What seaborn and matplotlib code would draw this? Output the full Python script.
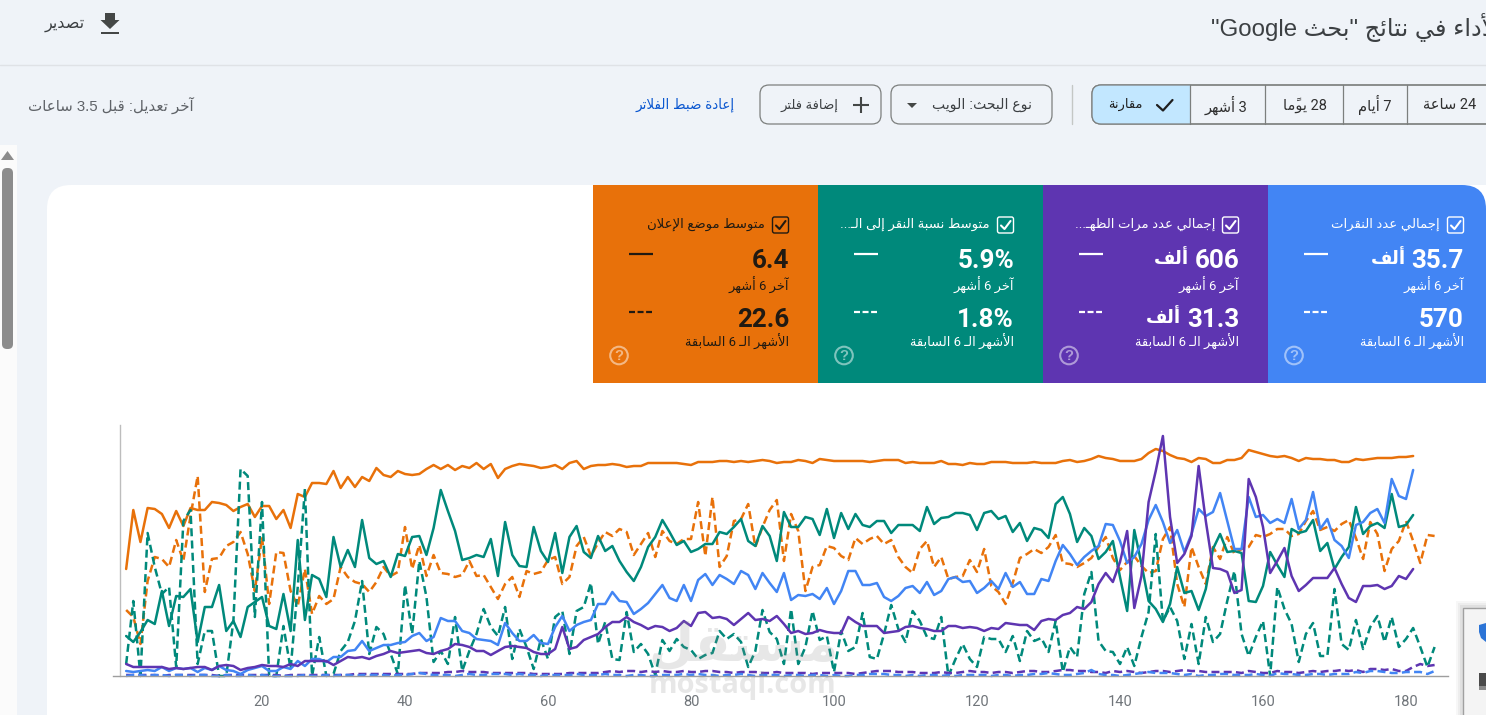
import re
import matplotlib
matplotlib.use("Agg")
import matplotlib.pyplot as plt
from matplotlib.patches import FancyBboxPatch, Rectangle, Polygon, Circle
import pandas as pd
import seaborn as sns

# ---------- data (chart units) ----------
position_current = [
    107,166,134,168,167,162,148,165,150,168,
    166,166,174,173,171,165,169,172,159,170,
    170,157,166,148,182,179,193,193,192,205,
    188,199,189,199,195,208,201,199,205,202,
    201,202,207,211,207,211,206,210,208,213,
    207,212,198,207,210,212,211,210,208,209,
    211,207,213,215,207,210,211,211,212,211,
    209,210,210,213,213,213,213,213,212,211,
    214,214,214,215,215,214,215,214,215,216,
    215,213,214,214,216,215,213,217,216,215,
    215,215,215,215,214,215,216,216,216,213,
    214,213,213,213,215,212,212,211,213,212,
    212,214,214,214,213,213,213,214,213,213,
    213,215,216,214,215,217,220,218,217,215,
    215,215,217,223,227,225,221,218,217,214,
    218,217,213,213,216,216,218,226,224,222,
    220,219,220,218,215,218,217,217,216,216,
    214,214,217,216,217,218,218,218,219,219,
    220]
ctr_current = [
    40,34,44,56,52,85,50,80,79,87,
    34,69,69,91,45,55,39,69,74,79,
    50,47,82,45,136,56,101,97,79,139,
    109,126,109,156,118,112,115,99,122,120,
    139,140,121,148,186,165,145,116,118,121,
    119,137,100,154,121,110,109,149,125,114,
    143,103,139,150,124,118,140,125,130,115,
    104,95,109,129,139,156,144,131,135,124,
    127,132,132,144,142,149,157,135,130,150,
    140,115,164,149,149,159,157,141,167,138,
    163,147,162,151,149,155,155,143,151,151,
    151,145,169,152,158,159,163,163,161,146,
    163,165,157,160,144,153,135,148,146,138,
    172,179,162,134,148,140,117,124,135,99,
    65,146,112,75,67,54,72,109,83,85,
    66,87,127,142,124,125,123,75,74,90,
    124,111,99,147,143,145,156,125,133,107,
    119,129,169,142,150,153,148,182,149,151,
    161]
clicks_current = [
    5,4,5,6,5,9,5,8,7,8,
    4,8,6,10,6,5,2,6,8,10,
    5,5,9,7,15,10,17,17,14,19,
    19,25,26,35,25,28,31,31,33,34,
    40,43,35,39,58,55,55,45,43,37,
    36,35,31,53,43,35,35,41,33,32,
    49,60,45,51,54,56,72,72,84,75,
    74,62,67,73,82,91,78,75,91,75,
    96,102,91,101,97,92,105,101,87,103,
    93,84,103,76,81,80,82,77,88,72,
    85,105,105,91,91,93,79,75,80,88,
    90,83,94,81,85,97,99,94,95,83,
    88,95,87,103,89,94,82,82,97,95,
    115,131,122,111,119,125,130,152,151,135,
    113,119,132,156,171,154,133,146,124,142,
    167,160,164,183,155,127,127,179,159,161,
    153,157,153,177,147,156,184,147,157,136,
    130,118,151,154,163,167,153,197,180,177,
    206]
impressions_current = [
    12,9,9,9,9,9,7,8,7,8,
    9,9,6,10,11,10,6,8,9,11,
    10,10,9,12,10,15,15,15,15,11,
    15,19,18,19,17,20,22,25,23,24,
    25,26,23,22,25,27,32,31,29,25,
    25,21,25,29,30,29,28,24,22,22,
    27,49,27,29,36,39,42,49,54,54,
    59,54,51,47,50,49,45,48,55,50,
    63,64,58,59,57,51,57,63,56,57,
    55,60,52,43,45,42,43,46,44,43,
    43,59,54,50,50,50,43,44,45,49,
    50,48,47,45,45,50,50,48,49,48,
    45,48,47,53,52,51,51,46,55,57,
    56,61,63,69,67,74,92,103,94,114,
    145,68,100,174,205,240,159,113,122,140,
    210,155,108,107,104,83,86,197,179,149,
    103,115,128,100,85,91,98,98,98,108,
    92,78,74,90,90,91,87,90,100,97,
    107]
position_previous = [
    66,59,32,95,119,117,109,136,115,160,
    200,84,117,118,130,134,144,122,85,139,
    72,124,123,85,70,107,62,80,72,77,
    109,99,94,92,84,94,109,100,104,149,
    107,131,100,121,103,102,99,101,115,100,
    101,89,77,92,99,79,105,102,104,116,
    119,92,99,130,139,120,133,144,140,147,
    144,121,132,143,119,145,135,132,137,137,
    174,120,179,109,120,155,157,172,129,149,
    166,176,115,162,145,85,109,111,130,128,
    120,116,138,132,137,140,132,136,119,109,
    103,127,135,109,119,97,99,100,116,104,
    127,90,84,72,93,118,122,127,123,129,
    141,113,112,109,113,118,129,139,118,106,
    114,120,110,103,105,137,149,92,69,129,
    109,92,129,117,139,122,127,129,141,139,
    142,147,147,140,142,155,165,146,149,145,
    152,156,138,117,154,142,105,127,135,155,
    135,113,141,140]
ctr_previous = [
    12,75,0,143,109,82,89,9,155,166,
    12,45,45,0,0,55,207,200,59,174,
    0,0,50,7,89,187,0,39,0,2,
    25,34,55,95,22,49,42,22,2,91,
    42,115,79,14,25,12,59,5,25,42,
    67,49,40,69,17,47,29,7,37,17,
    59,65,22,65,69,93,32,54,17,16,
    64,24,32,22,1,36,25,37,29,26,
    17,21,23,45,37,42,34,9,25,66,
    44,37,12,67,12,29,65,36,40,4,
    45,25,29,63,19,17,42,71,47,34,
    65,55,39,37,59,0,17,32,17,9,
    39,37,37,24,40,15,45,35,38,24,
    55,4,29,19,82,104,35,25,24,12,
    29,10,39,64,142,55,69,55,17,52,
    12,59,34,42,75,105,42,20,39,55,
    0,89,67,52,14,42,53,20,20,87,
    32,26,56,27,49,60,34,59,29,37,
    48,29,9,29]
impressions_previous = [
    1,1,1,1,1,0,1,1,1,1,
    1,1,1,0,1,1,1,1,1,1,
    1,1,0,1,1,1,1,1,1,1,
    1,1,2,2,2,2,2,2,2,2,
    2,3,3,3,3,4,4,5,4,4,
    4,3,3,3,3,3,3,2,2,2,
    2,2,3,3,3,3,3,4,5,4,
    5,5,4,5,4,5,4,4,5,4,
    4,5,5,4,4,3,4,4,4,3,
    3,4,3,3,3,3,2,3,3,3,
    3,3,2,3,4,5,5,5,4,4,
    4,3,3,3,4,3,3,4,5,4,
    4,3,4,4,3,4,5,5,4,4,
    5,6,6,5,5,4,4,3,5,4,
    5,4,3,4,5,5,4,5,6,5,
    5,4,4,4,4,4,3,5,4,3,
    3,5,4,4,3,4,5,4,5,5,
    6,5,6,4,7,7,6,7,5,5,
    9,12,10,11]
clicks_previous = [
    0,1,1,0,1,1,0,1,1,0,
    1,1,0,0,1,0,0,1,0,1,
    0,0,0,0,0,1,0,0,1,0,
    1,1,0,1,1,1,1,0,1,1,
    2,3,2,1,1,1,0,1,2,1,
    1,2,2,2,1,2,1,1,0,1,
    1,1,1,2,1,1,1,2,1,1,
    0,1,1,0,0,1,1,1,2,1,
    2,1,1,0,1,1,2,1,0,1,
    1,1,0,1,1,0,1,1,0,1,
    0,0,1,1,2,2,2,1,1,0,
    1,0,1,1,0,1,0,1,1,1,
    1,0,1,1,0,1,1,2,2,3,
    2,1,1,2,3,6,2,1,1,0,
    1,2,3,4,3,3,3,2,1,2,
    0,1,1,2,2,1,1,1,2,1,
    0,3,2,2,1,1,2,2,1,2,
    2,2,4,3,5,5,4,3,3,4,
    4,4,2,5]
x_ticks = [20, 40, 60, 80, 100, 120, 140, 160, 180]

BLUE, PURPLE, TEAL, ORANGE = "#4285f4", "#5e35b1", "#00897b", "#e8710a"
series = [
    ("position_prev", position_previous, ORANGE, True),
    ("position", position_current, ORANGE, False),
    ("ctr_prev", ctr_previous, TEAL, True),
    ("ctr", ctr_current, TEAL, False),
    ("impressions_prev", impressions_previous, PURPLE, True),
    ("clicks_prev", clicks_previous, BLUE, True),
    ("clicks", clicks_current, BLUE, False),
    ("impressions", impressions_current, PURPLE, False),
]

# ---------- texts ----------
title_text = 'الأداء في نتائج "بحث Google"'
export_text = "تصدير"
updated_text = "آخر تعديل: قبل 3.5 ساعات"
reset_text = "إعادة ضبط الفلاتر"
add_filter_text = "إضافة فلتر"
search_type_text = "نوع البحث: الويب"
compare_text = "مقارنة"
range_labels = ["3 أشهر", "28 يومًا", "7 أيام", "24 ساعة"]
tile_titles = ["متوسط موضع الإعلان", "متوسط نسبة النقر إلى الـ...", "إجمالي عدد مرات الظهـ...", "إجمالي عدد النقرات"]
tile_current = ["6.4", "5.9%", "606 ألف", "35.7 ألف"]
tile_previous = ["22.6", "1.8%", "31.3 ألف", "570"]
current_label = "آخر 6 أشهر"
previous_label = "الأشهر الـ 6 السابقة"
tile_colors = [ORANGE, TEAL, PURPLE, BLUE]
tile_ink = ["#201a12", "white", "white", "white"]

# ---------- Arabic shaping: matplotlib lays text out left to right without joining ----------
RIGHT = {'آ':0xFE81,'أ':0xFE83,'ؤ':0xFE85,'إ':0xFE87,'ا':0xFE8D,'ة':0xFE93,'د':0xFEA9,'ذ':0xFEAB,
         'ر':0xFEAD,'ز':0xFEAF,'و':0xFEED,'ى':0xFEEF}
DUAL = {'ئ':0xFE89,'ب':0xFE8F,'ت':0xFE95,'ث':0xFE99,'ج':0xFE9D,'ح':0xFEA1,'خ':0xFEA5,'س':0xFEB1,
        'ش':0xFEB5,'ص':0xFEB9,'ض':0xFEBD,'ط':0xFEC1,'ظ':0xFEC5,'ع':0xFEC9,'غ':0xFECD,'ف':0xFED1,
        'ق':0xFED5,'ك':0xFED9,'ل':0xFEDD,'م':0xFEE1,'ن':0xFEE5,'ه':0xFEE9,'ي':0xFEF1}
LAM_ALEF = {'ا':0xFEFB,'أ':0xFEF7,'إ':0xFEF9,'آ':0xFEF5}
TATWEEL = 'ـ'

def shape_word(word):
    clusters = []
    for ch in word:
        if '\u064b' <= ch <= '\u0652' and clusters:
            clusters[-1][1] += ch
        elif ch in LAM_ALEF and clusters and clusters[-1][0] == 'ل':
            clusters[-1][0] = 'ل' + ch
        else:
            clusters.append([ch, ''])
    joins_fwd = lambda b: b in DUAL or b == TATWEEL
    joins_back = lambda b: b in DUAL or b in RIGHT or b == TATWEEL or len(b) == 2
    out = []
    for i, (b, marks) in enumerate(clusters):
        prev = i > 0 and joins_fwd(clusters[i - 1][0]) and joins_back(b)
        nxt = i < len(clusters) - 1 and joins_fwd(b) and joins_back(clusters[i + 1][0])
        if len(b) == 2:
            g = chr(LAM_ALEF[b[1]] + (1 if prev else 0))
        elif b in DUAL:
            g = chr(DUAL[b] + {(0, 0): 0, (1, 0): 1, (0, 1): 2, (1, 1): 3}[(int(prev), int(nxt))])
        elif b in RIGHT:
            g = chr(RIGHT[b] + (1 if prev else 0))
        elif b == 'ء':
            g = chr(0xFE80)
        else:
            g = b
        out.append(g + marks)
    return ''.join(reversed(out))

def ar(s):
    tokens = re.findall(r"[A-Za-z0-9][A-Za-z0-9.,%]*|[\u0600-\u06FF]+|.", s)
    return ''.join(shape_word(t) if '\u0600' <= t[0] <= '\u06FF' else t for t in reversed(tokens))

# ---------- figure ----------
sns.set_theme(style="white")
plt.rcParams["font.family"] = ["Liberation Sans", "DejaVu Sans"]
W, H = 1486, 715
BG = "#eff3f8"
RB = ["Roboto", "DejaVu Sans"]
EDGE = "#7c7f7e"
fig = plt.figure(figsize=(W / 100, H / 100), dpi=100, facecolor=BG)

def pixel_axes(z):
    a = fig.add_axes([0, 0, 1, 1], zorder=z)
    a.set_xlim(0, W); a.set_ylim(H, 0); a.axis("off"); a.patch.set_alpha(0)
    return a

back = pixel_axes(0)
top = pixel_axes(2)

def txt(a, x, y, s, px, color="#3c4043", ha="right", weight="normal", family=None, alpha=1):
    kw = {}
    if family: kw["family"] = family
    return a.text(x, y, ar(s), fontsize=px * 0.72, color=color, ha=ha, va="center", weight=weight, alpha=alpha, zorder=3, **kw)

def rbox(a, x0, y0, x1, y1, r, fc="none", ec="none", lw=0.9, z=1):
    p = FancyBboxPatch((x0, y0), x1 - x0, y1 - y0, boxstyle=f"round,pad=0,rounding_size={r}",
                       fc=fc, ec=ec, lw=lw, zorder=z, mutation_aspect=1)
    a.add_patch(p)
    return p

def value_text(right, y, s, ink):
    m = re.match(r"([\d.,%]+)\s*(.*)", s)
    t = txt(back, right, y, m[1], 26, color=ink, weight="bold", family=RB)
    if m[2]:
        bb = t.get_window_extent(renderer=fig.canvas.get_renderer())
        txt(back, bb.x0 - 5.5, y - 2, m[2], 18.5, color=ink, weight="bold", family=RB)

# top bar
back.plot([0, W], [65, 65], color="#dfe2e6", lw=1)
txt(back, 1211, 27, title_text, 24, color="#3c4043", ha="left")
txt(back, 85, 24, export_text, 16, color="#3c4043")
back.add_patch(Polygon([(105, 13), (115, 13), (115, 20), (119.5, 20), (110, 29), (100.5, 20), (105, 20)], fc="#444746", ec="none"))
back.add_patch(Rectangle((101, 32), 18, 2.3, fc="#444746", ec="none"))

# filter row
txt(back, 194, 105, updated_text, 15, color="#5f6368")
txt(back, 735, 105, reset_text, 13.5, color="#0b57d0")
rbox(back, 760, 85, 881, 124, 9, ec=EDGE)
back.plot([861, 861], [97, 113], color="#444746", lw=1.5, solid_capstyle="butt")
back.plot([853, 869], [105, 105], color="#444746", lw=1.5, solid_capstyle="butt")
txt(back, 838, 105, add_filter_text, 13.2)
rbox(back, 891, 85, 1052, 124, 9, ec=EDGE)
back.add_patch(Polygon([(907, 103), (917, 103), (912, 108)], fc="#444746", ec="none"))
txt(back, 1032, 105, search_type_text, 14)
back.plot([1072, 1072], [85, 124], color="#c4c7c5", lw=1)

# range selector
seg_edges = [1190, 1265, 1343, 1407]
seg_text_x = [1248, 1327, 1391, 1476]
group = rbox(back, 1092, 85, 1540, 124, 9, ec=EDGE, fc=BG, z=1)
selected = Rectangle((1092, 85), 98, 39, fc="#c2e7ff", ec="none", zorder=1.5)
back.add_patch(selected); selected.set_clip_path(group)
rbox(back, 1092, 85, 1540, 124, 9, ec=EDGE, z=1.6)
for e in seg_edges:
    back.plot([e, e], [85, 124], color=EDGE, lw=0.9, zorder=1.7)
back.plot([1157, 1163, 1172.5], [105, 110.5, 100], color="#1f1f1f", lw=1.6, zorder=2)
txt(back, 1143, 104, compare_text, 13, color="#1f1f1f")
for s, x in zip(range_labels, seg_text_x):
    txt(back, x, 105, s, 14.6, color="#303030", family=RB)

# scrollbar strip
back.add_patch(Rectangle((0, 145), 17, H - 145, fc="#fbfbfb", ec="none"))
back.add_patch(Polygon([(1, 160), (14, 160), (7.5, 151)], fc="#8c8c8c", ec="none"))
rbox(back, 2, 168, 13, 349, 5, fc="#8c8c8c")

# card and tiles
card = rbox(back, 47, 185, 1560, 900, 24, fc="white", z=1)
fig.canvas.draw()
for i, col in enumerate(tile_colors):
    off = 225 * i
    ink = tile_ink[i]
    r = Rectangle((593 + off, 185), 225, 198, fc=col, ec="none", zorder=1.5)
    back.add_patch(r)
    if i == 3:
        corner = rbox(back, 500, 185, 1486, 500, 24, fc="none", z=0.5)
        r.set_clip_path(corner)
    right = 789 + off
    rbox(back, right - 16.5, 217, right - 0.5, 233, 2, ec=ink, lw=1.0, z=2)
    back.plot([right - 13, right - 9.5, right - 3.5], [225.5, 229, 221], color=ink, lw=1.5, zorder=2.1)
    txt(back, right - 24, 224, tile_titles[i], 13.3, color=ink)
    value_text(right, 261, tile_current[i], ink)
    txt(back, right, 285, current_label, 13, color=ink, family=RB)
    value_text(right, 320, tile_previous[i], ink)
    txt(back, right, 342, previous_label, 13, color=ink, family=RB)
    back.plot([629 + off, 653 + off], [254, 254], color=ink, lw=1.6, zorder=2, solid_capstyle="butt")
    back.plot([629 + off, 652 + off], [312, 312], color=ink, lw=1.6, zorder=2, linestyle=(0, (2.7, 1.15)), dash_capstyle="butt")
    back.add_patch(Circle((619 + off, 355.5), 8.8, fc="none", ec="white", lw=1.5, alpha=0.5, zorder=2))
    back.text(619 + off, 356, "?", fontsize=10.5, color="white", alpha=0.5, ha="center", va="center", weight="bold", zorder=2)

# ---------- chart ----------
PX0, PX_PER_X = 119.0, 7.15
X_L, X_R, Y_T, Y_B = 113, 1448, 425, 676
ax = fig.add_axes([X_L / W, (H - Y_B) / H, (X_R - X_L) / W, (Y_B - Y_T) / H], zorder=1)
ax.patch.set_alpha(0)
for name, vals, color, dashed in series:
    df = pd.DataFrame({"day": range(1, len(vals) + 1), "value": vals})
    sns.lineplot(data=df, x="day", y="value", ax=ax, color=color, linewidth=1.8, errorbar=None,
                 estimator=None, legend=False, clip_on=False,
                 linestyle=(0, (3.2, 1.7)) if dashed else "-")
ax.set_xlim((X_L - PX0) / PX_PER_X, (X_R - PX0) / PX_PER_X)
ax.set_ylim(0, Y_B - Y_T)
ax.set_xticks(x_ticks)
ax.set_yticks([])
ax.set_xlabel(""); ax.set_ylabel("")
ax.tick_params(axis="x", length=0, pad=14, labelsize=10.5, labelcolor="#70757a")
for lab in ax.get_xticklabels():
    lab.set_family(RB)
sns.despine(ax=ax, top=True, right=True)
ax.spines["left"].set_position(("data", (120 - PX0) / PX_PER_X))
ax.spines["left"].set_color("#bdbdbd"); ax.spines["left"].set_linewidth(1.0)
ax.spines["bottom"].set_color("#9e9e9e"); ax.spines["bottom"].set_linewidth(1.0)

# ---------- overlays: watermark, notification popup ----------
txt(top, 744, 647, "مستقل", 52, color="#8a8a8a", ha="center", weight="bold", alpha=0.2)
txt(top, 743, 686, "mostaql.com", 29, color="#8a8a8a", ha="center", weight="bold", alpha=0.2, family=["Open Sans", "DejaVu Sans"])
for k, a_ in zip((6, 4, 2), (0.03, 0.04, 0.05)):
    top.add_patch(Rectangle((1462 - k, 607 - k), 40, 130, fc="#000000", ec="none", alpha=a_))
top.add_patch(Rectangle((1462.5, 607.5), 40, 130, fc="#f4f4f4", ec="#a0a0a0", lw=1.0))
top.add_patch(Polygon([(1479, 625), (1486, 623), (1486, 642), (1481, 638), (1479, 632)], fc="#2c74d6", ec="none"))
top.add_patch(Rectangle((1479, 673), 7, 13, fc="#4a4a4a", ec="none"))
top.add_patch(Rectangle((1479, 686), 7, 4, fc="#8a8a8a", ec="none"))

fig.savefig("out.png", dpi=100, facecolor=BG)
